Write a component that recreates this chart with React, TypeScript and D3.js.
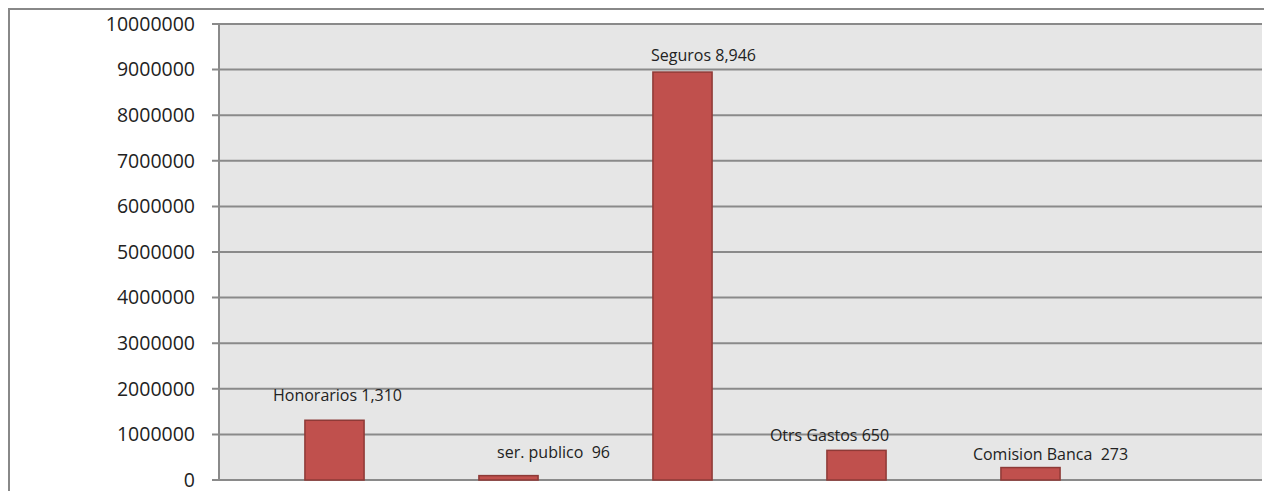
import React from "react";
import * as d3 from "d3";

const categories = ["Honorarios", "ser. publico", "Seguros", "Otrs Gastos", "Comision Banca"];
const values = [1310000, 96000, 8946000, 650000, 273000];
const labels = ["Honorarios 1,310", "ser. publico  96", "Seguros 8,946", "Otrs Gastos 650", "Comision Banca  273"];
const yTicks = [0, 1000000, 2000000, 3000000, 4000000, 5000000, 6000000, 7000000, 8000000, 9000000, 10000000];

// label placement tweaks (pixels relative to bar top / bar center)
const labelDx = [3, 45, 21, -27, 20];
const labelDy = [-25, -23, -17, -15, -13];

const W = 1264;
const H = 491;
const plotLeft = 219;
const plotRight = 1262;
const plotTop = 24;
const plotBottom = 480;

export default function App() {
  const y = d3.scaleLinear().domain([0, 10000000]).range([plotBottom, plotTop]);
  const x = d3
    .scaleBand<string>()
    .domain(categories)
    .range([247.5, 1117.5])
    .paddingInner(0.66)
    .paddingOuter(0.33);
  const font = "'Open Sans', Lato, sans-serif";
  return (
    <svg
      width={W}
      height={H}
      style={{ position: "fixed", left: 0, top: 0, background: "#fff" }}
    >
      <rect x={9} y={9} width={W + 20} height={H + 20} fill="#fff" stroke="#888" strokeWidth={2} />
      <rect x={plotLeft} y={plotTop} width={plotRight - plotLeft} height={plotBottom - plotTop} fill="#e6e6e6" />
      {yTicks.map((t) => (
        <g key={t}>
          <line x1={212} x2={plotRight} y1={y(t)} y2={y(t)} stroke="#8a8a8a" strokeWidth={2} />
          <text
            x={195}
            y={y(t)}
            dy="0.35em"
            textAnchor="end"
            fontFamily={font}
            fontSize={19.5}
            fill="#222"
          >
            {t}
          </text>
        </g>
      ))}
      <line x1={plotLeft} x2={plotLeft} y1={plotTop} y2={plotBottom} stroke="#8a8a8a" strokeWidth={2} />
      {categories.map((c, i) => {
        const bx = x(c)!;
        const bw = x.bandwidth();
        const top = y(values[i]);
        return (
          <g key={c}>
            <rect
              x={bx}
              y={top}
              width={bw}
              height={plotBottom - top}
              fill="#c0504d"
              stroke="#8e3a37"
              strokeWidth={1.5}
            />
            <text
              x={bx + bw / 2 + labelDx[i]}
              y={top + labelDy[i]}
              dy="0.35em"
              textAnchor="middle"
              fontFamily={font}
              fontSize={16}
              fill="#222"
              style={{ whiteSpace: "pre" }}
            >
              {labels[i]}
            </text>
          </g>
        );
      })}
    </svg>
  );
}
